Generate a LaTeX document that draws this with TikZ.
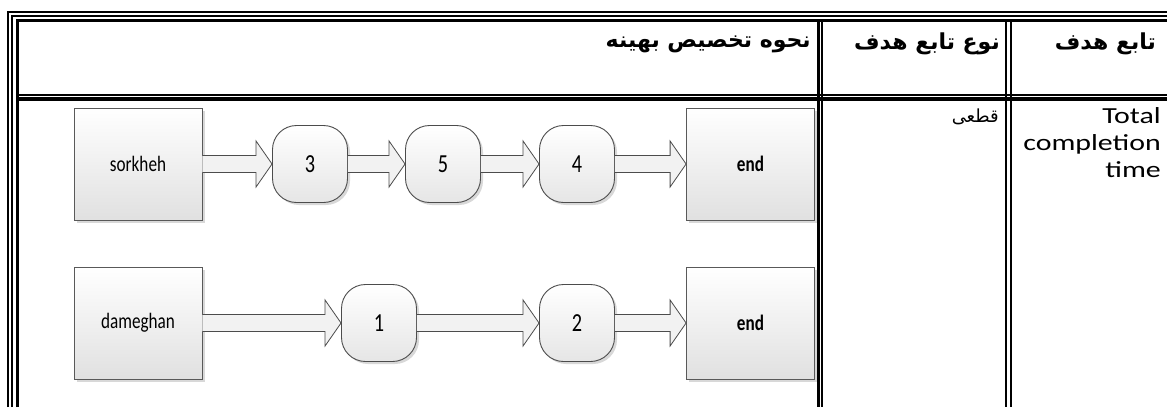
\documentclass[tikz,border=0pt]{standalone}
\usepackage{fontspec}
\setmainfont{Carlito}
\newfontfamily\arabicfont[Script=Arabic]{DejaVu Sans}
\TeXXeTstate=1
\usetikzlibrary{calc,shadows}
\newcommand\blkarrow[2]{%
  \path[blk] let \p1=(#1.east), \p2=(#2.west) in
    (\x1,\y1+8.5pt) -- (\x2-16pt,\y1+8.5pt) -- (\x2-16pt,\y1+23pt) -- (\x2,\y1)
    -- (\x2-16pt,\y1-23pt) -- (\x2-16pt,\y1-8.5pt) -- (\x1,\y1-8.5pt);}
\newcommand\dtext[2]{\scalebox{0.78}[1]{\fontsize{#1}{#1}\selectfont #2}}
\newcommand\wtext[1]{\scalebox{1.3}[1]{#1}}
\begin{document}
\begin{tikzpicture}[x=1pt,y=-1pt]
\useasboundingbox (0,0) rectangle (1167,407);
\tikzset{
  shd/.style={drop shadow={shadow xshift=2.5pt, shadow yshift=-2.5pt, fill=black!30, opacity=0.5}},
  box/.style={shd, draw=black!65, line width=0.8pt, top color=white, bottom color=black!12,
    minimum width=128pt, minimum height=112pt, inner sep=0pt},
  job/.style={shd, draw=black!70, line width=0.9pt, rounded corners=24pt, top color=white,
    bottom color=black!10, minimum width=75pt, minimum height=77pt, inner sep=0pt},
  blk/.style={draw=black!70, line width=0.8pt, fill=black!5},
  hdr/.style={font=\arabicfont\bfseries\fontsize{22}{26}\selectfont, anchor=east, inner sep=0pt},
  cell/.style={font=\arabicfont\fontsize{18}{22}\selectfont, anchor=east, inner sep=0pt},
}
% table frame
\draw[line width=2.3pt] (8.2,407) -- (8.2,12) -- (1167,12);
\draw[line width=2pt] (12,407) -- (12,15.8) -- (1167,15.8);
\draw[line width=3pt] (17,407) -- (17,20.8) -- (1167,20.8);
\draw[line width=1.7pt] (17,95) -- (1167,95);
\draw[line width=3.4pt] (17,99) -- (1167,99);
\draw[line width=3.5pt] (818.3,20.8) -- (818.3,407);
\draw[line width=1.5pt] (822,20.8) -- (822,407);
\draw[line width=2.2pt] (1006.2,20.8) -- (1006.2,407);
\draw[line width=2.2pt] (1011,20.8) -- (1011,407);
% headers
\node[hdr] (h3) at (1156,44) {\beginR تابع هدف\endR};
\node[hdr] (h2) at (1000,44) {\beginR نوع تابع هدف\endR};
\node[hdr] (h1) at (811,44) {\beginR نحوه تخصیص بهینه\endR};
\node[cell] (c2) at (999,117) {\beginR قطعی\endR};
\node[anchor=north east, inner sep=0pt, align=right, font=\fontsize{23}{27}\selectfont] (c3) at (1161,107)
  {\wtext{Total}\\\wtext{completion}\\\wtext{time}};
% row 1
\node[box] (s) at (138,164) {\dtext{22}{sorkheh}};
\node[job] (n3) at (310,164) {\dtext{26}{3}};
\node[job] (n5) at (443,164) {\dtext{26}{5}};
\node[job] (n4) at (577,164) {\dtext{26}{4}};
\node[box] (e1) at (750.5,164) {\dtext{22}{\bfseries end}};
% row 2
\node[box] (d) at (138,323) {\dtext{22}{dameghan}};
\node[job] (n1) at (379,323) {\dtext{26}{1}};
\node[job] (n2) at (577,323) {\dtext{26}{2}};
\node[box] (e2) at (750.5,323) {\dtext{22}{\bfseries end}};
% arrows
\blkarrow{s}{n3}
\blkarrow{n3}{n5}
\blkarrow{n5}{n4}
\blkarrow{n4}{e1}
\blkarrow{d}{n1}
\blkarrow{n1}{n2}
\blkarrow{n2}{e2}
\end{tikzpicture}
\end{document}
